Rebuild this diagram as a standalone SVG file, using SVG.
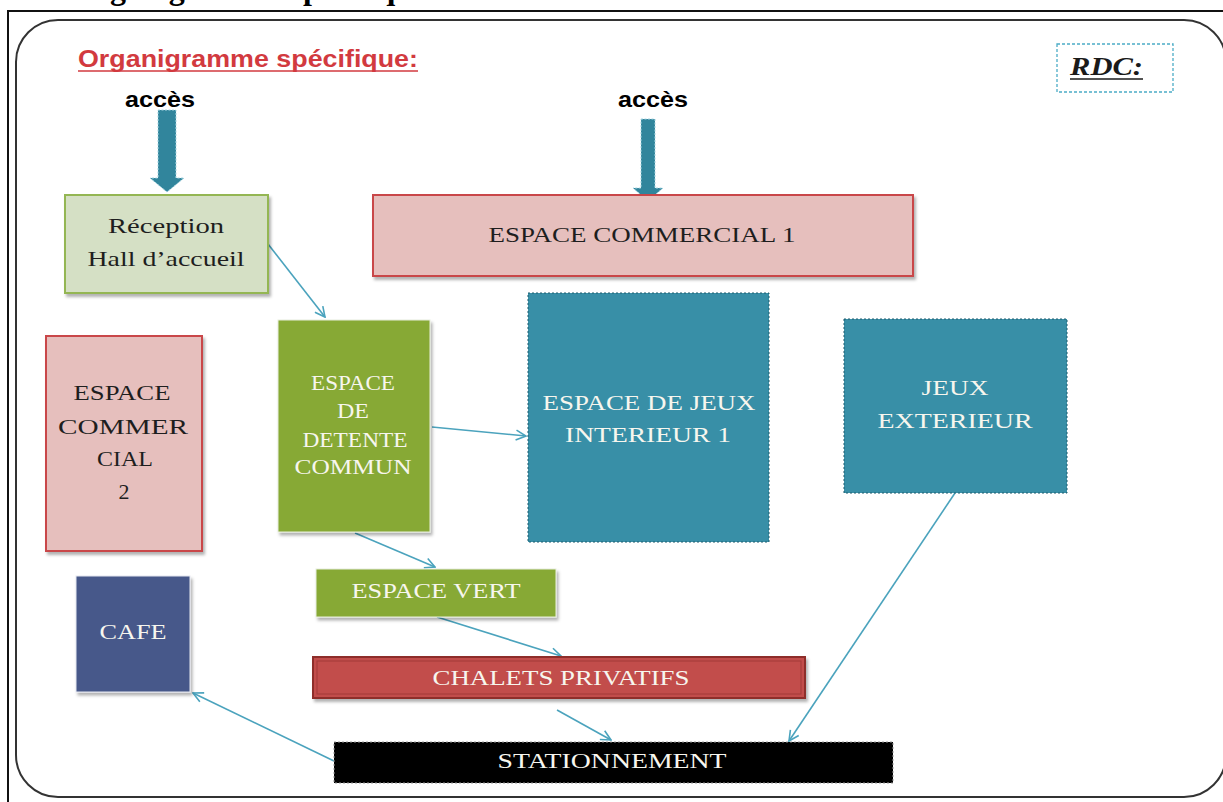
<svg xmlns="http://www.w3.org/2000/svg" width="1223" height="802" viewBox="0 0 1223 802">
<style>
  .nt{font-family:"Liberation Serif","Times New Roman",serif;font-size:22px;text-anchor:middle}
  .dk{fill:#1e1e1e}
  .wt{fill:#f7f6ee}
  .conn{stroke:#4ba3bd;stroke-width:1.6;fill:none;marker-end:url(#ah)}
  .blk{fill:#31859c;stroke:#a8d6e2;stroke-width:1;stroke-dasharray:2 1.5}
</style>
<defs>
  <marker id="ah" viewBox="0 0 12 12" refX="11" refY="6" markerWidth="12" markerHeight="12" markerUnits="userSpaceOnUse" orient="auto">
    <path d="M1,1 L11,6 L1,11" fill="none" stroke="#4ba3bd" stroke-width="1.6"/>
  </marker>
  <filter id="sh" x="-10%" y="-10%" width="130%" height="130%">
    <feDropShadow dx="2" dy="3" stdDeviation="1.5" flood-color="#000" flood-opacity="0.3"/>
  </filter>
</defs>
<rect width="1223" height="802" fill="#ffffff"/>
<!-- page header (cut) -->
<text x="71" y="-1" font-family="Liberation Serif, serif" font-weight="bold" font-size="32" fill="#000">Organigramme spécifique:</text>
<!-- outer frame -->
<path d="M8,802 V11 H1223" fill="none" stroke="#111" stroke-width="2"/>
<rect x="16" y="20" width="1210" height="777" rx="42" ry="42" fill="none" stroke="#333" stroke-width="2"/>

<!-- titles -->
<g id="title">
  <text x="78" y="67" font-family="Liberation Sans, Arial, sans-serif" font-weight="bold" font-size="23" fill="#d23a3f" textLength="340" lengthAdjust="spacingAndGlyphs">Organigramme spécifique:</text>
  <line x1="78" y1="71" x2="418" y2="71" stroke="#d23a3f" stroke-width="1.6"/>
</g>
<g id="rdc">
  <rect x="1057" y="44" width="116" height="48" fill="none" stroke="#4bacc6" stroke-width="1.3" stroke-dasharray="3 2"/>
  <text x="1070" y="75" font-family="Liberation Serif, serif" font-weight="bold" font-style="italic" font-size="26" fill="#1a1a1a" textLength="73" lengthAdjust="spacingAndGlyphs">RDC:</text>
  <line x1="1070" y1="79" x2="1143" y2="79" stroke="#1a1a1a" stroke-width="1.6"/>
</g>
<g id="acces1">
  <text x="125" y="107" font-family="Liberation Sans, Arial, sans-serif" font-weight="bold" font-size="22" fill="#000" textLength="70" lengthAdjust="spacingAndGlyphs">accès</text>
  <path class="blk" d="M158,110 H176 V178 H184 L167,192 L150,178 H158 Z"/>
</g>
<g id="acces2">
  <text x="618" y="107" font-family="Liberation Sans, Arial, sans-serif" font-weight="bold" font-size="22" fill="#000" textLength="70" lengthAdjust="spacingAndGlyphs">accès</text>
  <path class="blk" d="M641,119 H655 V188 H663 L648,201 L633,188 H641 Z"/>
</g>

<!-- connectors -->
<g id="connectors">
  <line class="conn" x1="268" y1="244" x2="325" y2="317"/>
  <line class="conn" x1="432" y1="427" x2="526" y2="436"/>
  <line class="conn" x1="355" y1="533" x2="435" y2="567"/>
  <line class="conn" x1="437" y1="617" x2="561" y2="656"/>
  <line class="conn" x1="557" y1="710" x2="611" y2="740"/>
  <line class="conn" x1="955" y1="493" x2="789" y2="741"/>
  <line class="conn" x1="334" y1="761" x2="193" y2="693"/>
</g>

<!-- nodes -->
<g id="reception">
  <rect x="65" y="195" width="203" height="98" fill="#d5e0c5" stroke="#94b653" stroke-width="2" filter="url(#sh)"/>
  <text class="nt dk" x="166" y="233" textLength="116" lengthAdjust="spacingAndGlyphs">Réception</text>
  <text class="nt dk" x="166" y="266" textLength="157" lengthAdjust="spacingAndGlyphs">Hall d’accueil</text>
</g>
<g id="commercial1">
  <rect x="373" y="195" width="540" height="81" fill="#e6bfbd" stroke="#c9474a" stroke-width="2" filter="url(#sh)"/>
  <text class="nt dk" x="642" y="242" textLength="307" lengthAdjust="spacingAndGlyphs">ESPACE COMMERCIAL 1</text>
</g>
<g id="commercial2">
  <rect x="46" y="336" width="156" height="215" fill="#e6bfbd" stroke="#c9474a" stroke-width="2" filter="url(#sh)"/>
  <text class="nt dk" x="122" y="400" textLength="97" lengthAdjust="spacingAndGlyphs">ESPACE</text>
  <text class="nt dk" x="123" y="434" textLength="130" lengthAdjust="spacingAndGlyphs">COMMER</text>
  <text class="nt dk" x="125" y="466" textLength="56" lengthAdjust="spacingAndGlyphs">CIAL</text>
  <text class="nt dk" x="124" y="499">2</text>
</g>
<g id="detente">
  <rect x="278" y="320" width="152" height="212" fill="#87a935" stroke="#e8eedd" stroke-width="1" filter="url(#sh)"/>
  <text class="nt wt" x="353" y="390" font-size="20" textLength="84" lengthAdjust="spacingAndGlyphs">ESPACE</text>
  <text class="nt wt" x="353" y="418" font-size="20" textLength="32" lengthAdjust="spacingAndGlyphs">DE</text>
  <text class="nt wt" x="355" y="447" font-size="20" textLength="105" lengthAdjust="spacingAndGlyphs">DETENTE</text>
  <text class="nt wt" x="353" y="474" font-size="20" textLength="117" lengthAdjust="spacingAndGlyphs">COMMUN</text>
</g>
<g id="jeux-interieur">
  <rect x="528" y="293" width="241" height="249" fill="#388fa7" stroke="#1d5d6e" stroke-width="1" stroke-dasharray="2 2"/>
  <text class="nt wt" x="649" y="410" textLength="213" lengthAdjust="spacingAndGlyphs">ESPACE DE JEUX</text>
  <text class="nt wt" x="648" y="442" textLength="166" lengthAdjust="spacingAndGlyphs">INTERIEUR 1</text>
</g>
<g id="jeux-exterieur">
  <rect x="844" y="319" width="223" height="174" fill="#388fa7" stroke="#1d5d6e" stroke-width="1" stroke-dasharray="2 2"/>
  <text class="nt wt" x="955" y="395" textLength="67" lengthAdjust="spacingAndGlyphs">JEUX</text>
  <text class="nt wt" x="955" y="428" textLength="155" lengthAdjust="spacingAndGlyphs">EXTERIEUR</text>
</g>
<g id="espace-vert">
  <rect x="316" y="569" width="240" height="48" fill="#87a935" stroke="#e8eedd" stroke-width="1" filter="url(#sh)"/>
  <text class="nt wt" x="436" y="598" font-size="21" textLength="169" lengthAdjust="spacingAndGlyphs">ESPACE VERT</text>
</g>
<g id="cafe">
  <rect x="76" y="576" width="114" height="116" fill="#47598a" stroke="#e6e8ef" stroke-width="1" filter="url(#sh)"/>
  <text class="nt wt" x="133" y="639" textLength="67" lengthAdjust="spacingAndGlyphs">CAFE</text>
</g>
<g id="chalets">
  <rect x="313" y="657" width="492" height="41" fill="#c24d4b" stroke="#8e2e2c" stroke-width="2" filter="url(#sh)"/>
  <rect x="317" y="661" width="484" height="33" fill="none" stroke="#a23b39" stroke-width="1"/>
  <text class="nt wt" x="561" y="685" font-size="21" textLength="257" lengthAdjust="spacingAndGlyphs">CHALETS PRIVATIFS</text>
</g>
<g id="stationnement">
  <rect x="334" y="742" width="559" height="41" fill="#000" stroke="#9a9a9a" stroke-width="1" stroke-dasharray="2 2"/>
  <text class="nt wt" x="612" y="768" font-size="21" textLength="229" lengthAdjust="spacingAndGlyphs">STATIONNEMENT</text>
</g>
</svg>
